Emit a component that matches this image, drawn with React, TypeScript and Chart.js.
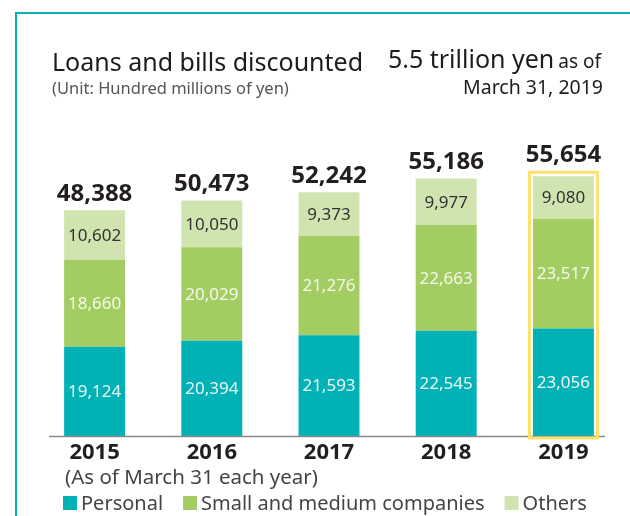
import React, { useEffect, useRef } from "react";
import { Chart, registerables } from "chart.js";

Chart.register(...registerables);

const years = ["2015", "2016", "2017", "2018", "2019"];
const personal = [19124, 20394, 21593, 22545, 23056];
const smallMedium = [18660, 20029, 21276, 22663, 23517];
const others = [10602, 10050, 9373, 9977, 9080];
const totals = [48388, 50473, 52242, 55186, 55654];

const seriesLabels = ["Personal", "Small and medium companies", "Others"];
const seriesColors = ["#00b1b5", "#a3cd62", "#d0e4b0"];
const labelColors = ["#eaf7f4", "#f4f9ea", "#333333"];

const FONT = "'Noto Sans', sans-serif";
const fmt = (v: number) => v.toLocaleString("en-US");

const decorPlugin = {
  id: "decor",
  beforeDraw(chart: any) {
    const ctx = chart.ctx;
    ctx.save();
    ctx.fillStyle = "#ffffff";
    ctx.fillRect(0, 0, chart.width, chart.height);
    // frame
    ctx.strokeStyle = "#00b1b5";
    ctx.lineWidth = 2;
    ctx.beginPath();
    ctx.moveTo(16, chart.height);
    ctx.lineTo(16, 13);
    ctx.lineTo(chart.width, 13);
    ctx.stroke();
    // titles
    ctx.textBaseline = "alphabetic";
    ctx.fillStyle = "#1e1b1c";
    ctx.textAlign = "left";
    ctx.font = `25px ${FONT}`;
    ctx.fillText("Loans and bills discounted", 52, 71);
    ctx.fillStyle = "#555555";
    ctx.font = `16.5px ${FONT}`;
    ctx.fillText("(Unit: Hundred millions of yen)", 52, 94);
    // right title
    ctx.fillStyle = "#1e1b1c";
    ctx.font = `19px ${FONT}`;
    const asOf = "as of";
    const asOfW = ctx.measureText(asOf).width;
    ctx.textAlign = "right";
    ctx.fillText(asOf, 601, 68);
    ctx.font = `25px ${FONT}`;
    ctx.fillText("5.5 trillion yen", 601 - asOfW - 4, 68);
    ctx.font = `19.5px ${FONT}`;
    ctx.fillText("March 31, 2019", 603, 94);
    ctx.restore();
  },
  afterDatasetsDraw(chart: any) {
    const ctx = chart.ctx;
    ctx.save();
    const xScale = chart.scales.x;
    // axis line
    ctx.strokeStyle = "#8a8a8a";
    ctx.lineWidth = 1.5;
    ctx.beginPath();
    ctx.moveTo(49, chart.chartArea.bottom + 0.5);
    ctx.lineTo(605, chart.chartArea.bottom + 0.5);
    ctx.stroke();

    // segment labels
    ctx.textAlign = "center";
    ctx.textBaseline = "middle";
    ctx.font = `17px ${FONT}`;
    chart.data.datasets.forEach((ds: any, di: number) => {
      const meta = chart.getDatasetMeta(di);
      meta.data.forEach((bar: any, i: number) => {
        ctx.fillStyle = labelColors[di];
        const cy = (bar.y + bar.base) / 2;
        ctx.fillText(fmt(ds.data[i]), bar.x, cy + 1);
      });
    });

    // totals
    const topMeta = chart.getDatasetMeta(2);
    ctx.font = `bold 24px ${FONT}`;
    ctx.fillStyle = "#231f20";
    ctx.textBaseline = "alphabetic";
    topMeta.data.forEach((bar: any, i: number) => {
      const extra = i === years.length - 1 ? 5 : 0;
      ctx.fillText(fmt(totals[i]), bar.x, bar.y - 9 - extra);
    });

    // highlight box for last year
    const last = topMeta.data[years.length - 1];
    const half = last.width / 2;
    ctx.strokeStyle = "#fbe26a";
    ctx.lineWidth = 3;
    ctx.strokeRect(last.x - half - 3.5, last.y - 4, last.width + 7, chart.chartArea.bottom - last.y + 6);

    // x labels
    ctx.font = `bold 22px ${FONT}`;
    ctx.fillStyle = "#231f20";
    years.forEach((y, i) => {
      ctx.fillText(y, xScale.getPixelForValue(i), 459);
    });

    // note
    ctx.textAlign = "left";
    ctx.font = `20.5px ${FONT}`;
    ctx.fillStyle = "#444444";
    ctx.fillText("(As of March 31 each year)", 65, 484);

    // legend
    let lx = 63;
    ctx.font = `20px ${FONT}`;
    chart.data.datasets.forEach((ds: any) => {
      ctx.fillStyle = ds.backgroundColor;
      ctx.fillRect(lx, 496, 14, 14);
      lx += 18;
      ctx.fillStyle = "#444444";
      ctx.fillText(ds.label, lx, 510);
      lx += ctx.measureText(ds.label).width + 20;
    });
    ctx.restore();
  },
};

export default function App() {
  const ref = useRef<HTMLCanvasElement | null>(null);
  useEffect(() => {
    if (!ref.current) return;
    const chart = new Chart(ref.current, {
      type: "bar",
      data: {
        labels: years,
        datasets: [
          { label: seriesLabels[0], data: personal, backgroundColor: seriesColors[0] },
          { label: seriesLabels[1], data: smallMedium, backgroundColor: seriesColors[1] },
          { label: seriesLabels[2], data: others, backgroundColor: seriesColors[2] },
        ],
      },
      options: {
        animation: false,
        responsive: false,
        maintainAspectRatio: false,
        devicePixelRatio: 1,
        layout: { padding: { top: 156, bottom: 80, left: 36, right: 8 } },
        datasets: { bar: { barPercentage: 0.52, categoryPercentage: 1, borderWidth: 0 } },
        scales: {
          x: { stacked: true, display: false },
          y: { stacked: true, display: false, min: 0, max: 60000 },
        },
        plugins: { legend: { display: false }, tooltip: { enabled: false }, title: { display: false } },
      },
      plugins: [decorPlugin],
    });
    return () => chart.destroy();
  }, []);
  return (
    <div style={{ position: "fixed", left: 0, top: 0, width: 630, height: 516, background: "#fff" }}>
      <canvas ref={ref} width={630} height={516} style={{ display: "block", width: 630, height: 516 }} />
    </div>
  );
}
